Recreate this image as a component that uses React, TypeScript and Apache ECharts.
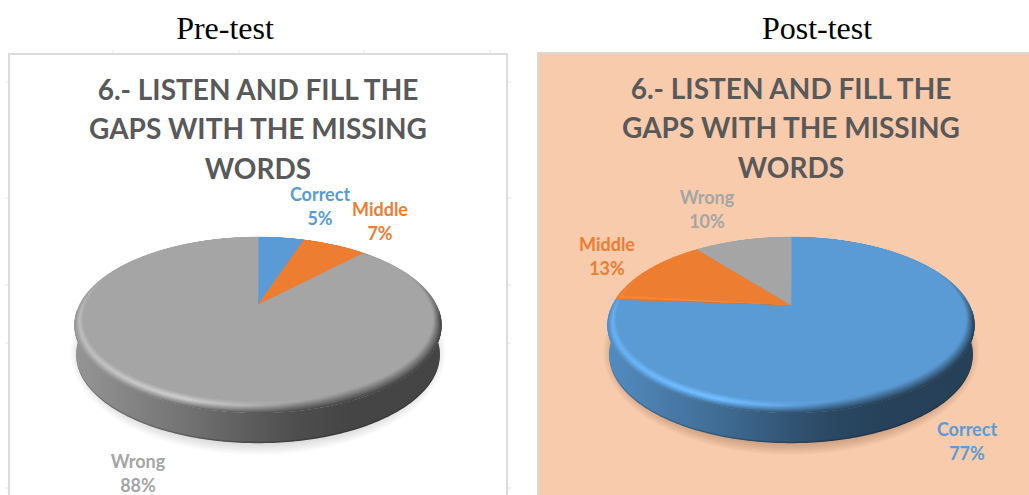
import React, { useEffect, useRef } from "react";
import * as echarts from "echarts";

const categories = ["Correct", "Middle", "Wrong"];
const preTestValues = [5, 7, 88];
const postTestValues = [77, 13, 10];
const sliceColors = ["#5b9bd5", "#ed7d31", "#a5a5a5"];
const chartTitle = "6.- LISTEN AND FILL THE\nGAPS WITH THE MISSING\nWORDS";

const WIDTH = 1029;
const HEIGHT = 495;

// Perspective disc: apex of the wedges, projection constants, rim and thickness.
const APEX_Y = 305;
const PERSPECTIVE = 0.173;
const FACE_X = 172.4;
const FACE_Y = 79.8;
const FACE_CENTER = 14;
const RIM_SCALE_X = 0.049;
const RIM_SCALE_Y = 0.069;
const RIM_DROP = 6;
const DEPTH = 30;
const BEVEL_LAYERS = 10;
const SWEEP = 183.5;
const SHADOW_LAYERS = 7;

const STOPS = [0, 0.15, 0.3, 0.45, 0.6, 0.75, 1];
const SIDE_SHADE = [0.9, 0.8, 0.7, 0.58, 0.47, 0.42, 0.41];
const HIGHLIGHT = [0.14, 0.22, 0.26, 0.12, 0.02, 0, 0];
const PEAK_AT = [0.55, 0.55, 0.55, 0.6, 0.8, 0.95, 0.95];

function rgb(hex: string) {
  const n = parseInt(hex.slice(1), 16);
  return [(n >> 16) & 255, (n >> 8) & 255, n & 255];
}

function shadeColor(hex: string, factor: number) {
  const [r, g, b] = rgb(hex).map((c) => Math.min(255, Math.round(c * factor)));
  return `rgb(${r},${g},${b})`;
}

// Screen offset from the apex for an angle (clockwise from 12 o'clock);
// t = 1 is the flat face, t = 0 the outer edge of the bevel.
function rimPoint(angle: number, t: number) {
  const u = Math.sin(angle);
  const v = Math.cos(angle);
  const w = 1 + PERSPECTIVE * v;
  const x = (FACE_X * u) / w;
  const y = (-FACE_Y * v) / w;
  const spread = 1 - t;
  return [
    x * (1 + spread * RIM_SCALE_X),
    FACE_CENTER + (y - FACE_CENTER) * (1 + spread * RIM_SCALE_Y) + spread * RIM_DROP,
  ];
}

function arcPoints(from: number, to: number, t: number, cx: number, dy = 0, scale = 1) {
  const steps = Math.max(2, Math.ceil(((to - from) * 180) / Math.PI));
  const points: number[][] = [];
  for (let i = 0; i <= steps; i++) {
    const [x, y] = rimPoint(from + ((to - from) * i) / steps, t);
    points.push([cx + x * scale, APEX_Y + y + dy]);
  }
  return points;
}

function horizontalGradient(cx: number, stops: { offset: number; color: string }[]) {
  return new echarts.graphic.LinearGradient(cx - SWEEP, 0, cx + SWEEP, 0, stops, true);
}

function bevelGradient(cx: number, base: string, t: number) {
  return horizontalGradient(
    cx,
    STOPS.map((offset, i) => {
      const peak = PEAK_AT[i];
      const top = 1 + HIGHLIGHT[i];
      const factor =
        t < peak
          ? SIDE_SHADE[i] + (top - SIDE_SHADE[i]) * (t / peak)
          : top + (1 - top) * ((t - peak) / (1 - peak));
      return { offset, color: shadeColor(base, factor) };
    })
  );
}

function sideGradient(cx: number, base: string, dim: number) {
  return horizontalGradient(
    cx,
    STOPS.map((offset, i) => ({ offset, color: shadeColor(base, SIDE_SHADE[i] * dim) }))
  );
}

// The bevel melts into the slice colour towards the far half of the disc.
function farSideFade(base: string) {
  const [r, g, b] = rgb(base);
  return new echarts.graphic.LinearGradient(
    0,
    APEX_Y - 32,
    0,
    APEX_Y + 14,
    [
      { offset: 0, color: `rgba(${r},${g},${b},1)` },
      { offset: 1, color: `rgba(${r},${g},${b},0)` },
    ],
    true
  );
}

function pieSeries(
  name: string,
  values: number[],
  cx: number,
  labelOffsets: number[][],
  shadowColor: string
) {
  const total = values.reduce((a, b) => a + b, 0);
  return {
    type: "custom",
    name,
    coordinateSystem: "none",
    silent: true,
    data: values.map((v) => [v]),
    renderItem: (params: any, api: any) => {
      const index = params.dataIndex;
      const before = values.slice(0, index).reduce((a, b) => a + b, 0);
      const start = (before / total) * Math.PI * 2;
      const end = start + (api.value(0) / total) * Math.PI * 2;
      const base = sliceColors[index];
      const children: any[] = [];

      if (index === 0) {
        // Soft cast shadow from stacked translucent ellipses.
        for (let i = 0; i < SHADOW_LAYERS; i++) {
          const grow = (SHADOW_LAYERS - 1 - i) * 1.6;
          children.push({
            type: "ellipse",
            shape: { cx, cy: APEX_Y + 47, rx: 178 + grow, ry: 93 + grow },
            style: { fill: shadowColor },
          });
        }
      }

      // Cylinder wall: only the part of the slice that faces the viewer.
      const frontFrom = Math.max(start, Math.PI / 2);
      const frontTo = Math.min(end, (Math.PI * 3) / 2);
      if (frontTo > frontFrom) {
        const upper = arcPoints(frontFrom, frontTo, 0, cx);
        children.push({
          type: "polygon",
          shape: { points: upper.concat(arcPoints(frontFrom, frontTo, 0, cx, DEPTH, 0.99).reverse()) },
          style: { fill: sideGradient(cx, base, 0.8) },
        });
        children.push({
          type: "polygon",
          shape: { points: upper.concat(arcPoints(frontFrom, frontTo, 0, cx, DEPTH - 1.5, 0.99).reverse()) },
          style: { fill: sideGradient(cx, base, 1) },
        });
      }

      // Bevel built from nested copies of the slice, then the flat face on top.
      for (let layer = 0; layer < BEVEL_LAYERS; layer++) {
        children.push({
          type: "polygon",
          shape: { points: [[cx, APEX_Y], ...arcPoints(start, end, layer / BEVEL_LAYERS, cx)] },
          style: { fill: bevelGradient(cx, base, layer / BEVEL_LAYERS) },
        });
      }
      const fade = farSideFade(base);
      children.push({
        type: "polygon",
        shape: { points: [[cx, APEX_Y], ...arcPoints(start, end, 0, cx)] },
        style: { fill: fade, stroke: fade, lineWidth: 1 },
      });
      children.push({
        type: "polygon",
        shape: { points: [[cx, APEX_Y], ...arcPoints(start, end, 1, cx)] },
        style: { fill: base },
      });

      const [dx, dy] = labelOffsets[index];
      children.push({
        type: "text",
        style: {
          text: `${categories[index]}\n${api.value(0)}%`,
          x: cx + dx,
          y: APEX_Y + dy,
          align: "center",
          verticalAlign: "top",
          fill: base,
          font: "bold 18px Lato",
          lineHeight: 24,
        },
      });
      return { type: "group", children };
    },
  };
}

function headerTitle(text: string, left: number) {
  return {
    text,
    left,
    top: 12,
    padding: 0,
    textAlign: "center",
    textStyle: { fontFamily: "Liberation Serif", fontSize: 32, fontWeight: "normal", color: "#000000" },
  };
}

function chartHeading(left: number, top: number) {
  return {
    text: chartTitle,
    left,
    top,
    padding: 0,
    textAlign: "center",
    textStyle: { fontFamily: "Lato", fontSize: 28, fontWeight: "bold", color: "#595959", lineHeight: 39.5 },
  };
}

const topStubs = [113, 239, 364, 490];
const sideStubs = [82, 198, 285, 343, 488];

function panels() {
  const stub = { stroke: "#e4e4e4", lineWidth: 1 };
  return [
    { type: "rect", shape: { x: 9, y: 54, width: 498, height: 460 }, style: { fill: "#ffffff", stroke: "#dcdcdc", lineWidth: 2 } },
    { type: "rect", shape: { x: 538, y: 53, width: 520, height: 460 }, style: { fill: "#f7cbac", stroke: "#dcd8d4", lineWidth: 2 } },
    ...topStubs.map((x) => ({ type: "line", shape: { x1: x, y1: 50, x2: x, y2: 53 }, style: stub })),
    ...sideStubs.map((y) => ({ type: "line", shape: { x1: 5, y1: y, x2: 8, y2: y }, style: stub })),
    ...sideStubs.map((y) => ({ type: "line", shape: { x1: 508, y1: y, x2: 511, y2: y }, style: stub })),
  ];
}

export default function App() {
  const ref = useRef<HTMLDivElement>(null);

  useEffect(() => {
    const chart = echarts.init(ref.current!, null, { renderer: "svg" });
    chart.setOption({
      animation: false,
      backgroundColor: "#ffffff",
      title: [
        headerTitle("Pre-test", 225),
        headerTitle("Post-test", 817),
        chartHeading(258, 69),
        chartHeading(791, 68),
      ],
      graphic: { elements: panels() },
      series: [
        pieSeries("Pre-test", preTestValues, 258, [[62, -123], [122, -108], [-120, 144]], "rgba(0,0,0,0.02)"),
        pieSeries("Post-test", postTestValues, 791, [[176, 112], [-184, -73], [-84, -120]], "rgba(110,60,30,0.04)"),
      ],
    });
    return () => chart.dispose();
  }, []);

  return (
    <div
      ref={ref}
      style={{ position: "fixed", left: 0, top: 0, width: WIDTH, height: HEIGHT, overflow: "hidden" }}
    />
  );
}
